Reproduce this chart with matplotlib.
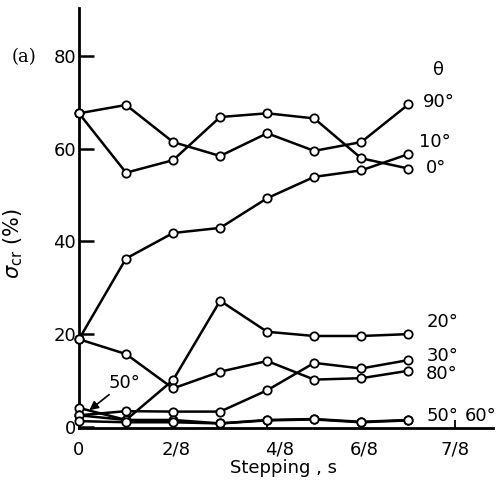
import matplotlib
matplotlib.use("Agg")
import matplotlib.pyplot as plt
import matplotlib.transforms as mtransforms

# x positions in eighths of a step
steps = [0, 1, 2, 3, 4, 5, 6, 7]

theta_0 = [67.6, 54.8, 57.5, 66.8, 67.6, 66.5, 57.9, 55.7]
theta_90 = [67.6, 69.4, 61.4, 58.4, 63.3, 59.5, 61.4, 69.5]
theta_10 = [18.9, 36.3, 41.8, 42.9, 49.3, 53.9, 55.3, 58.8]
theta_20 = [4.1, 1.5, 10.1, 27.2, 20.5, 19.6, 19.6, 20.0]
theta_30 = [2.5, 3.4, 3.3, 3.3, 7.9, 13.8, 12.6, 14.4]
theta_80 = [18.9, 15.7, 8.3, 11.9, 14.2, 10.2, 10.5, 12.1]
theta_50 = [2.5, 1.5, 1.5, 0.75, 1.5, 1.7, 1.1, 1.5]
theta_60 = [1.25, 1.0, 1.0, 0.75, 1.4, 1.6, 1.0, 1.4]

series = [theta_0, theta_90, theta_10, theta_20, theta_30, theta_80, theta_50, theta_60]

xtick_pos = [0, 2, 4, 6, 8]
xtick_labels = ["0", "2/8", "4/8", "6/8", "7/8"]
ytick_pos = [0, 20, 40, 60, 80]

fig = plt.figure(figsize=(4.97, 4.87), dpi=100)
ax = fig.add_axes([79 / 497, 1 - 428.3 / 487, 414 / 497, 420.3 / 487])

for s in series:
    ax.plot(steps, s, color="black", lw=1.8, marker="o", ms=6,
            mfc="white", mec="black", mew=1.3, clip_on=False, zorder=3)

ax.set_xlim(0, 8.8)
ax.set_ylim(-0.3, 90.3)

for side in ("top", "right"):
    ax.spines[side].set_visible(False)
for side in ("left", "bottom"):
    ax.spines[side].set_linewidth(2)

FS = 13
ax.set_yticks(ytick_pos)
ax.set_yticklabels([str(v) for v in ytick_pos], fontsize=FS)
ax.tick_params(axis="y", direction="in", length=11, width=1.8, pad=2)
ax.set_xticks(xtick_pos)
ax.set_xticklabels(xtick_labels, fontsize=FS)
ax.tick_params(axis="x", direction="in", length=6, width=1.3, pad=9)

# small horizontal shifts of some tick labels (as typeset in the original)
shifts = {"2/8": 3, "4/8": 12, "6/8": 3}
for lab in ax.get_xticklabels():
    dx = shifts.get(lab.get_text(), 0)
    if dx:
        off = mtransforms.ScaledTranslation(dx / 100, 0, fig.dpi_scale_trans)
        lab.set_transform(lab.get_transform() + off)

ax.set_xlabel("Stepping , s", fontsize=FS)
ax.xaxis.set_label_coords(0.493, -0.072)
ax.set_ylabel(r"$\sigma_{\rm cr}$ (%)", fontsize=15)
ax.yaxis.set_label_coords(-0.13, 0.44)

fig.text(12 / 497, 1 - 57 / 487, "(a)", fontsize=13, family="DejaVu Serif",
         va="center", ha="left")

labels = [("θ", 7.53, 76.9), ("90°", 7.32, 70.1), ("10°", 7.23, 61.5),
          ("0°", 7.38, 55.9), ("20°", 7.38, 22.7), ("30°", 7.38, 15.3),
          ("80°", 7.38, 11.4), ("50°", 7.38, 2.3), ("60°", 8.21, 2.3)]
for t, x, y in labels:
    ax.text(x, y, t, fontsize=FS, va="center", ha="left", clip_on=False)

ax.annotate("50°", xy=(0.22, 3.6), xytext=(0.62, 9.5), fontsize=FS,
            ha="left", va="center",
            arrowprops=dict(arrowstyle="-|>", color="black", lw=1.2,
                            shrinkA=0, shrinkB=0))

fig.savefig("out.png", dpi=100)
